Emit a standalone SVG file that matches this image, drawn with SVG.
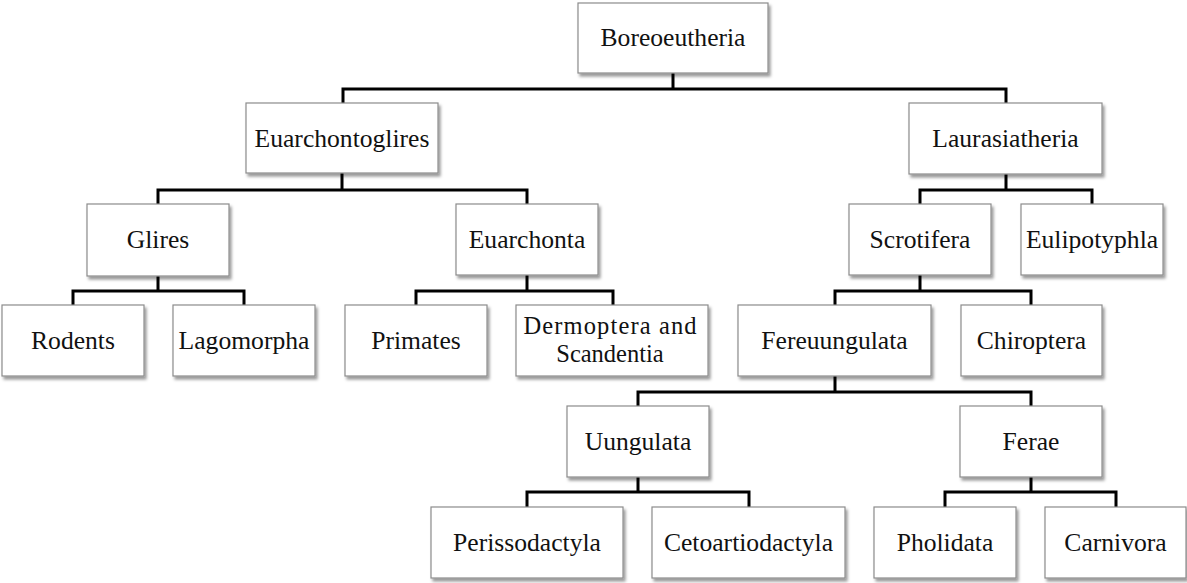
<svg xmlns="http://www.w3.org/2000/svg" width="1187" height="583" viewBox="0 0 1187 583">
<style>
.box{fill:#fff;stroke:#8c8c8c;stroke-width:1.2;filter:url(#sh)}
.lbl{font-family:'Liberation Serif','DejaVu Serif',serif;font-size:25.6px;fill:#111;text-anchor:middle}
.sm{font-size:24.5px}
.con{fill:none;stroke:#000;stroke-width:3;stroke-linejoin:miter}
</style>
<defs>
<filter id="sh" x="-10%" y="-10%" width="125%" height="135%">
<feDropShadow dx="2" dy="3" stdDeviation="1.6" flood-color="#000" flood-opacity="0.4"/>
</filter>
</defs>
<rect width="1187" height="583" fill="#fff"/>
<g id="connectors">
<path class="con" d="M673 73V89M343 103V89H1006V103"/>
<path class="con" d="M342 173V190M158 204V190H527V204"/>
<path class="con" d="M1006 174V190M920 204V190H1092V204"/>
<path class="con" d="M158 276V291M73 305V291H244V305"/>
<path class="con" d="M527 275V291M416 305V291H613V305"/>
<path class="con" d="M920 275V291M835 305V291H1031V305"/>
<path class="con" d="M835 376V392M638 406V392H1031V406"/>
<path class="con" d="M638 477V492M527 507V492H749V507"/>
<path class="con" d="M1031 477V492M945 507V492H1116V507"/>
</g>
<g font-family="Liberation Serif, DejaVu Serif, serif">
<g id="n-boreoeutheria"><rect class="box" x="578" y="3" width="190" height="70"/><text class="lbl" x="673" y="46">Boreoeutheria</text></g>
<g id="n-euarchontoglires"><rect class="box" x="246" y="103" width="192" height="70"/><text class="lbl" x="342" y="147">Euarchontoglires</text></g>
<g id="n-laurasiatheria"><rect class="box" x="909" y="103" width="193" height="71"/><text class="lbl" x="1005.5" y="147">Laurasiatheria</text></g>
<g id="n-glires"><rect class="box" x="87" y="204" width="142" height="72"/><text class="lbl" x="158" y="248">Glires</text></g>
<g id="n-euarchonta"><rect class="box" x="456" y="204" width="142" height="71"/><text class="lbl" x="527" y="248">Euarchonta</text></g>
<g id="n-scrotifera"><rect class="box" x="849" y="204" width="142" height="71"/><text class="lbl" x="920" y="248">Scrotifera</text></g>
<g id="n-eulipotyphla"><rect class="box" x="1021" y="204" width="142" height="71"/><text class="lbl" x="1092" y="248">Eulipotyphla</text></g>
<g id="n-rodents"><rect class="box" x="2" y="305" width="142" height="71"/><text class="lbl" x="73" y="349">Rodents</text></g>
<g id="n-lagomorpha"><rect class="box" x="173" y="305" width="142" height="71"/><text class="lbl" x="244" y="349">Lagomorpha</text></g>
<g id="n-primates"><rect class="box" x="345" y="305" width="142" height="71"/><text class="lbl" x="416" y="349">Primates</text></g>
<g id="n-dermoptera"><rect class="box" x="516" y="305" width="192" height="71"/><text class="lbl sm" x="610" y="334" textLength="173" lengthAdjust="spacing">Dermoptera and</text><text class="lbl sm" x="610" y="362">Scandentia</text></g>
<g id="n-fereuungulata"><rect class="box" x="738" y="305" width="193" height="71"/><text class="lbl" x="834.5" y="349">Fereuungulata</text></g>
<g id="n-chiroptera"><rect class="box" x="961" y="305" width="141" height="71"/><text class="lbl" x="1031.5" y="349">Chiroptera</text></g>
<g id="n-uungulata"><rect class="box" x="567" y="406" width="142" height="71"/><text class="lbl" x="638" y="450">Uungulata</text></g>
<g id="n-ferae"><rect class="box" x="960" y="406" width="142" height="71"/><text class="lbl" x="1031" y="450">Ferae</text></g>
<g id="n-perissodactyla"><rect class="box" x="431" y="507" width="192" height="71"/><text class="lbl" x="527" y="551">Perissodactyla</text></g>
<g id="n-cetoartiodactyla"><rect class="box" x="652" y="507" width="193" height="71"/><text class="lbl" x="748.5" y="551">Cetoartiodactyla</text></g>
<g id="n-pholidata"><rect class="box" x="874" y="507" width="142" height="71"/><text class="lbl" x="945" y="551">Pholidata</text></g>
<g id="n-carnivora"><rect class="box" x="1045" y="507" width="141" height="71"/><text class="lbl" x="1115.5" y="551">Carnivora</text></g>
</g>
</svg>
